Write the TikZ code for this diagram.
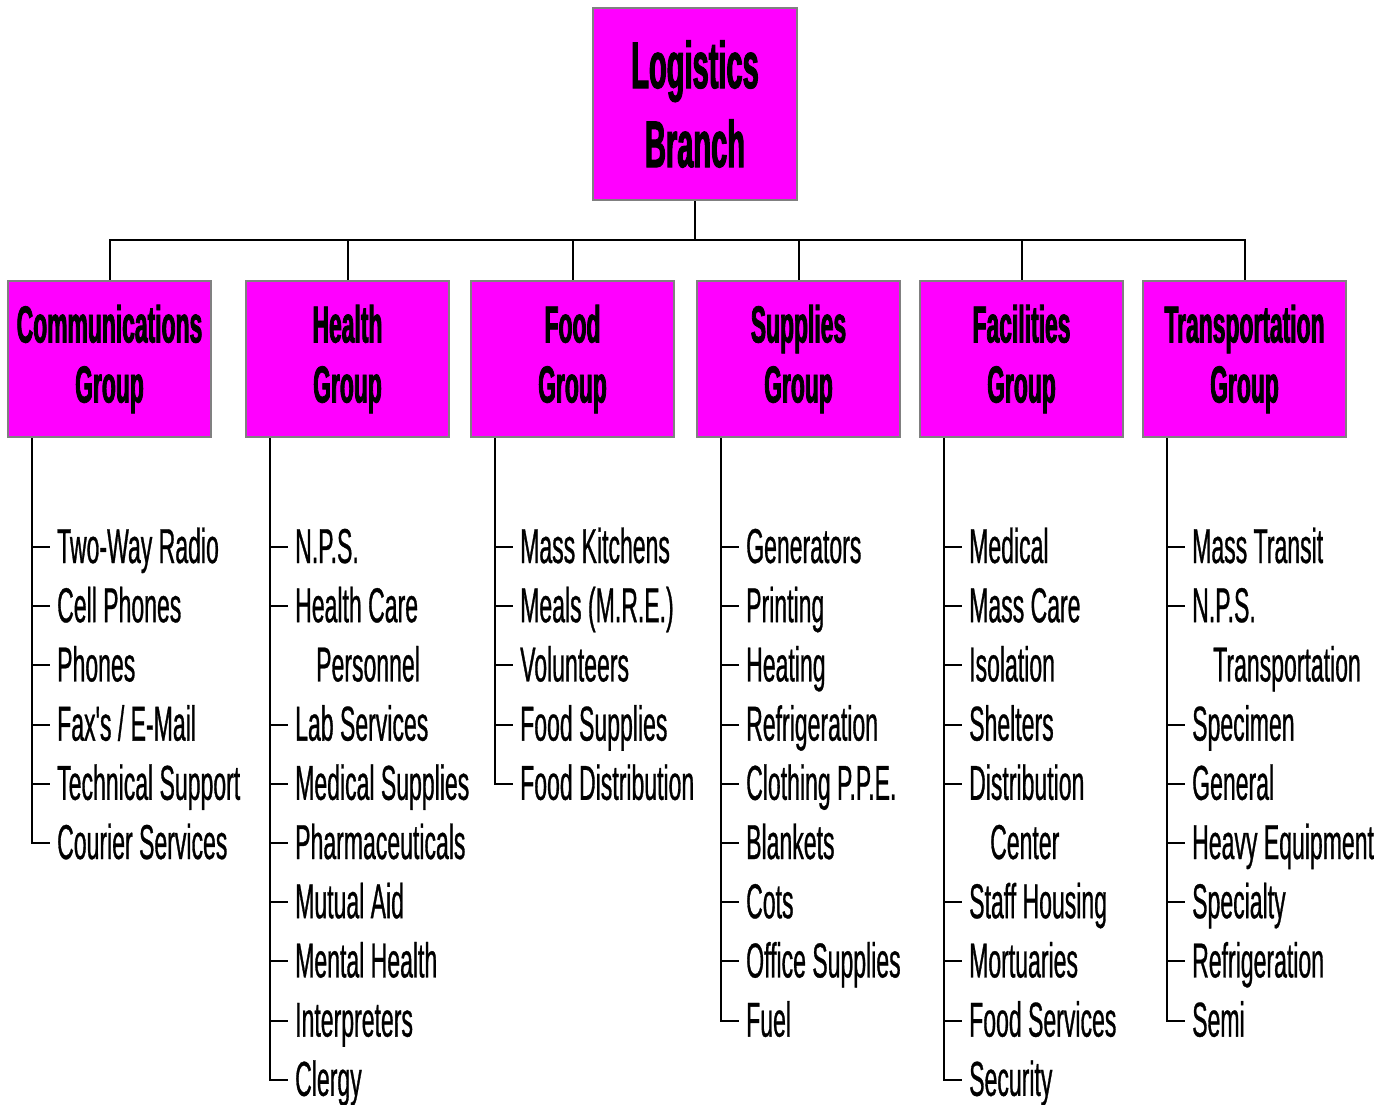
\documentclass[tikz,border=0pt]{standalone}
\usepackage{fontspec}
\newfontfamily\itemfont[FakeStretch=0.47, FakeBold=0.6]{Liberation Sans}
\newfontfamily\headfont[FakeStretch=0.44, FakeBold=1.5]{Liberation Sans}
\definecolor{boxfill}{RGB}{255,0,255}
\definecolor{boxline}{RGB}{128,128,128}
\begin{document}
\begin{tikzpicture}[x=1pt, y=-1pt,
    wire/.style={draw=black, line width=2pt},
    branch node/.style={rectangle, draw=boxline, line width=2.5pt, fill=boxfill,
      minimum width=204pt, minimum height=192pt, inner sep=0pt, align=center,
      font={\headfont\bfseries\fontsize{66}{79}\selectfont}},
    group node/.style={rectangle, draw=boxline, line width=2.5pt, fill=boxfill,
      minimum width=203pt, minimum height=156pt, inner sep=0pt, align=center,
      font={\headfont\bfseries\fontsize{52}{60}\selectfont}},
    item/.style={anchor=west, inner xsep=7pt, inner ysep=0pt,
      text height=36pt, text depth=4pt,
      font={\itemfont\fontsize{49}{59}\selectfont}}]
  \useasboundingbox (0,0) rectangle (1390,1104);

  % top of the chart
  \node[branch node] (branch) at (695,104) {Logistics\\Branch};
  \coordinate (bus) at (0,240);

  % groups
  \node[group node] (comm) at (109.5,359) {Communications\\Group};
  \node[group node] (health) at (347.5,359) {Health\\Group};
  \node[group node] (food) at (572.5,359) {Food\\Group};
  \node[group node] (supp) at (798.5,359) {Supplies\\Group};
  \node[group node] (facil) at (1021.5,359) {Facilities\\Group};
  \node[group node] (trans) at (1244.5,359) {Transportation\\Group};

  \foreach \g in {comm,health,food,supp,facil,trans} {
    \draw[wire] (branch.south) -- (bus -| branch.south) -| (\g.north);
    \coordinate (\g-t) at ([xshift=25.25pt]\g.south west);
  }

  % Communications
  \foreach \t [count=\i] in {Two-Way Radio, Cell Phones, Phones, Fax's / E-Mail,
      Technical Support, Courier Services}
    \node[item] (comm-\i) at (50,{547+59.2*(\i-1)}) {\t};
  \foreach \i in {1,...,5}
    \draw[wire] (comm-\i.west -| comm-t) -- (comm-\i.west);
  \draw[wire] (comm-t) |- (comm-6.west);

  % Health
  \foreach \t [count=\i] in {N.P.S., Health Care, \hspace*{21pt}Personnel,
      Lab Services, Medical Supplies, Pharmaceuticals, Mutual Aid,
      Mental Health, Interpreters, Clergy}
    \node[item] (health-\i) at (288,{547+59.2*(\i-1)}) {\t};
  \foreach \i in {1,2,4,5,6,7,8,9}
    \draw[wire] (health-\i.west -| health-t) -- (health-\i.west);
  \draw[wire] (health-t) |- (health-10.west);

  % Food
  \foreach \t [count=\i] in {Mass Kitchens, Meals (M.R.E.), Volunteers,
      Food Supplies, Food Distribution}
    \node[item] (food-\i) at (513,{547+59.2*(\i-1)}) {\t};
  \foreach \i in {1,...,4}
    \draw[wire] (food-\i.west -| food-t) -- (food-\i.west);
  \draw[wire] (food-t) |- (food-5.west);

  % Supplies
  \foreach \t [count=\i] in {Generators, Printing, Heating, Refrigeration,
      Clothing P.P.E., Blankets, Cots, Office Supplies, Fuel}
    \node[item] (supp-\i) at (739,{547+59.2*(\i-1)}) {\t};
  \foreach \i in {1,...,8}
    \draw[wire] (supp-\i.west -| supp-t) -- (supp-\i.west);
  \draw[wire] (supp-t) |- (supp-9.west);

  % Facilities
  \foreach \t [count=\i] in {Medical, Mass Care, Isolation, Shelters,
      Distribution, \hspace*{21pt}Center, Staff Housing, Mortuaries,
      Food Services, Security}
    \node[item] (facil-\i) at (962,{547+59.2*(\i-1)}) {\t};
  \foreach \i in {1,2,3,4,5,7,8,9}
    \draw[wire] (facil-\i.west -| facil-t) -- (facil-\i.west);
  \draw[wire] (facil-t) |- (facil-10.west);

  % Transportation
  \foreach \t [count=\i] in {Mass Transit, N.P.S., \hspace*{21pt}Transportation,
      Specimen, General, Heavy Equipment, Specialty, Refrigeration, Semi}
    \node[item] (trans-\i) at (1185,{547+59.2*(\i-1)}) {\t};
  \foreach \i in {1,2,4,5,6,7,8}
    \draw[wire] (trans-\i.west -| trans-t) -- (trans-\i.west);
  \draw[wire] (trans-t) |- (trans-9.west);
\end{tikzpicture}
\end{document}
